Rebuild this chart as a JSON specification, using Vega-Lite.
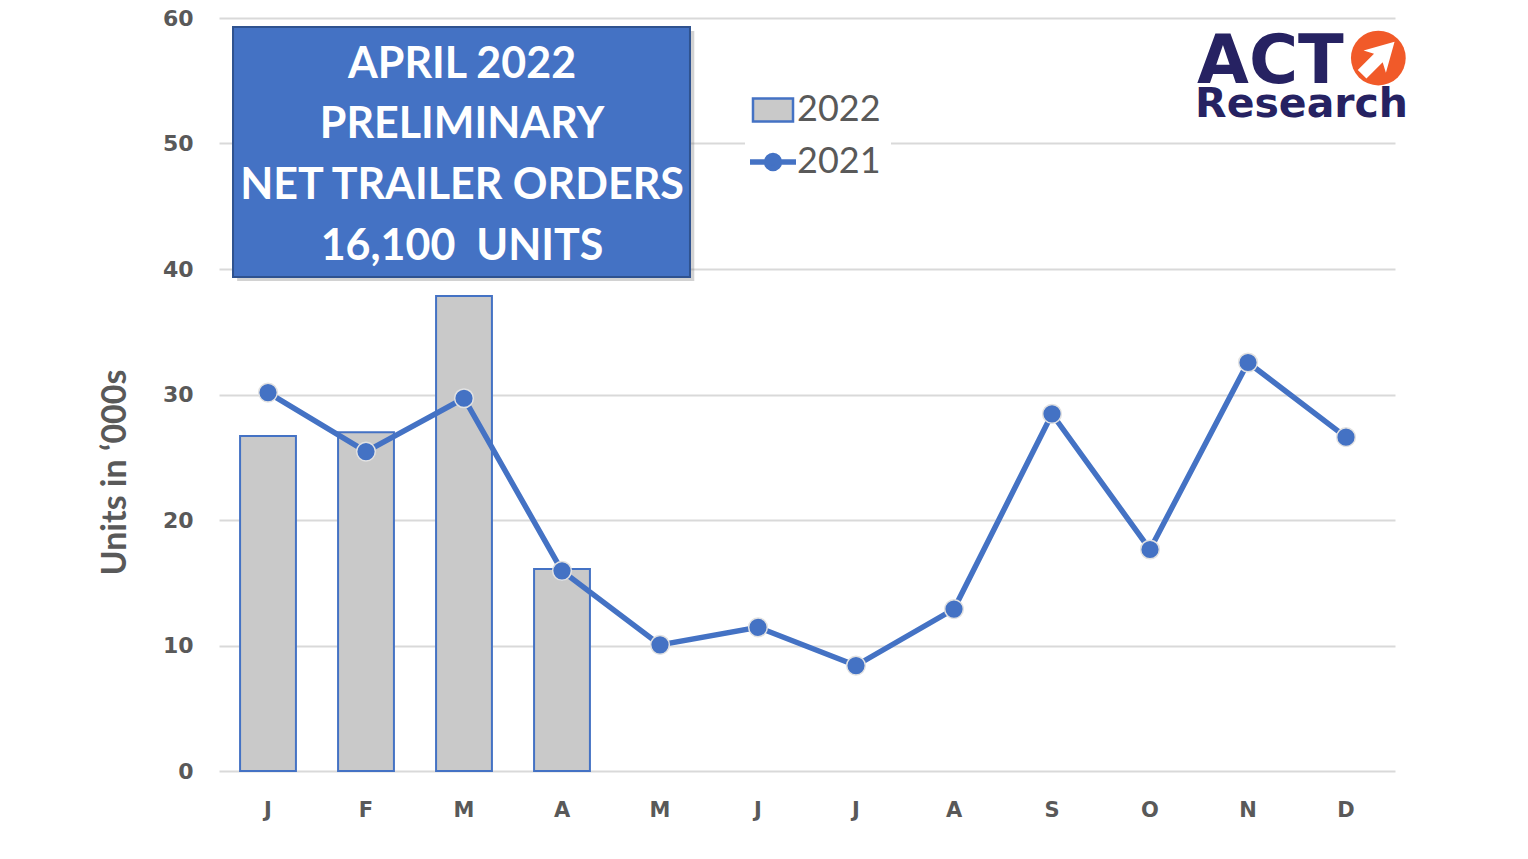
{
  "$schema": "https://vega.github.io/schema/vega-lite/v6.json",
  "width": 1176,
  "height": 753,
  "autosize": {"type": "none"},
  "padding": {"left": 219, "top": 18, "right": 133, "bottom": 88},
  "background": "white",
  "config": {"view": {"stroke": null}},
  "layer": [
    {
      "data": {"values": [
        {"month": "Jan", "series": "2022", "value": 26.7},
        {"month": "Feb", "series": "2022", "value": 27.0},
        {"month": "Mar", "series": "2022", "value": 37.85},
        {"month": "Apr", "series": "2022", "value": 16.1},
        {"month": "Jan", "series": "2021", "value": 30.15},
        {"month": "Feb", "series": "2021", "value": 25.45},
        {"month": "Mar", "series": "2021", "value": 29.7},
        {"month": "Apr", "series": "2021", "value": 15.95},
        {"month": "May", "series": "2021", "value": 10.05},
        {"month": "Jun", "series": "2021", "value": 11.45},
        {"month": "Jul", "series": "2021", "value": 8.4},
        {"month": "Aug", "series": "2021", "value": 12.9},
        {"month": "Sep", "series": "2021", "value": 28.45},
        {"month": "Oct", "series": "2021", "value": 17.65},
        {"month": "Nov", "series": "2021", "value": 32.55},
        {"month": "Dec", "series": "2021", "value": 26.6}
      ]},
      "encoding": {
        "x": {
          "field": "month", "type": "nominal",
          "scale": {"domain": ["Jan","Feb","Mar","Apr","May","Jun","Jul","Aug","Sep","Oct","Nov","Dec"], "paddingInner": 0.43, "paddingOuter": 0.215},
          "axis": {
            "title": null, "labelAngle": 0, "labelExpr": "substring(datum.label,0,1)",
            "labelFont": "DejaVu Sans", "labelFontWeight": "bold", "labelFontSize": 21,
            "labelColor": "#595959", "labelPadding": 28, "ticks": false, "domain": false, "grid": false
          }
        },
        "y": {
          "field": "value", "type": "quantitative",
          "scale": {"domain": [0, 60], "nice": false, "zero": true},
          "axis": {
            "title": "Units in ‘000s", "titleFont": "Lato", "titleFontSize": 34, "titleFontWeight": "bold",
            "titleColor": "#595959", "titlePadding": 30, "titleY": 454,
            "values": [0,10,20,30,40,50,60],
            "labelFont": "DejaVu Sans", "labelFontWeight": "bold", "labelFontSize": 22,
            "labelColor": "#595959", "labelPadding": 26, "ticks": false, "domain": false,
            "grid": true, "gridColor": "#D9D9D9", "gridWidth": 2
          }
        },
        "stroke": {
          "field": "series", "type": "nominal",
          "scale": {"domain": ["2022", "2021"], "range": ["#4472C4", "#4472C4"]},
          "legend": {
            "title": null, "orient": "none", "legendX": 526, "legendY": 64,
            "fillColor": "white", "padding": 10, "symbolSize": 2116,
            "labelFont": "Lato", "labelFontSize": 36, "labelColor": "#595959",
            "labelOffset": 6, "rowPadding": 16,
            "encode": {
              "symbols": {"update": {
                "shape": {"signal": "datum.value === '2022' ? 'M-0.87,-0.5H0.87V0.5H-0.87Z' : 'M-1,0H1M-0.28,0A0.28,0.28 0 1,0 0.28,0A0.28,0.28 0 1,0 -0.28,0Z'"},
                "fill": {"signal": "datum.value === '2022' ? '#C9C9C9' : '#4472C4'"},
                "strokeWidth": {"signal": "datum.value === '2022' ? 2.5 : 5.5"},
                "opacity": {"value": 1},
                "strokeOpacity": {"value": 1},
                "fillOpacity": {"value": 1}
              }}
            }
          }
        }
      },
      "layer": [
        {"transform": [{"filter": "datum.series === '2022'"}], "mark": {"type": "bar", "fill": "#C9C9C9", "strokeWidth": 2}},
        {"transform": [{"filter": "datum.series === '2021'"}], "mark": {"type": "line", "strokeWidth": 5.5}},
        {"transform": [{"filter": "datum.series === '2021'"}], "mark": {"type": "point", "filled": true, "size": 350, "fill": "#4472C4", "strokeWidth": 1.5, "opacity": 1},
         "encoding": {"stroke": {"value": "#E2E2E2"}}}
      ]
    },
    {
      "encoding": {
        "x": {"type": "quantitative", "scale": {"domain": [0, 12], "nice": false, "zero": false}, "axis": null},
        "y": {"type": "quantitative", "scale": {"domain": [0, 60], "nice": false, "zero": false}, "axis": null}
      },
      "layer": [
        {
          "data": {"values": [{"x1": 0.185, "x2": 4.85, "y1": 39.04, "y2": 58.96}]},
          "mark": {"type": "rect", "fill": "#7F7F7F", "opacity": 0.35},
          "encoding": {"x": {"field": "x1", "type": "quantitative"}, "x2": {"field": "x2"}, "y": {"field": "y1", "type": "quantitative"}, "y2": {"field": "y2"}}
        },
        {
          "data": {"values": [{"x1": 0.143, "x2": 4.806, "y1": 39.36, "y2": 59.28}]},
          "mark": {"type": "rect", "fill": "#4472C4", "stroke": "#2F528F", "strokeWidth": 2},
          "encoding": {"x": {"field": "x1", "type": "quantitative"}, "x2": {"field": "x2"}, "y": {"field": "y1", "type": "quantitative"}, "y2": {"field": "y2"}}
        },
        {
          "data": {"values": [
            {"t": "APRIL 2022", "x": 2.48, "y": 55.2},
            {"t": "PRELIMINARY", "x": 2.48, "y": 50.4},
            {"t": "NET TRAILER ORDERS", "x": 2.48, "y": 45.6},
            {"t": "16,100\u00a0\u00a0UNITS", "x": 2.48, "y": 40.7}
          ]},
          "mark": {"type": "text", "font": "Lato", "fontSize": 43, "fontWeight": "bold", "color": "white", "align": "center", "baseline": "alphabetic"},
          "encoding": {"x": {"field": "x", "type": "quantitative"}, "y": {"field": "y", "type": "quantitative"}, "text": {"field": "t"}}
        },
        {
          "data": {"values": [{"t": "ACT", "x": 9.98, "y": 54.82}]},
          "mark": {"type": "text", "font": "DejaVu Sans", "fontSize": 67, "fontWeight": "bold", "color": "#262262", "align": "left", "baseline": "alphabetic"},
          "encoding": {"x": {"field": "x", "type": "quantitative"}, "y": {"field": "y", "type": "quantitative"}, "text": {"field": "t"}}
        },
        {
          "data": {"values": [{"t": "Research", "x": 9.96, "y": 52.11}]},
          "mark": {"type": "text", "font": "DejaVu Sans", "fontSize": 41, "fontWeight": "bold", "color": "#262262", "align": "left", "baseline": "alphabetic"},
          "encoding": {"x": {"field": "x", "type": "quantitative"}, "y": {"field": "y", "type": "quantitative"}, "text": {"field": "t"}}
        },
        {
          "data": {"values": [{"x": 11.83, "y": 56.81}]},
          "mark": {"type": "point", "shape": "circle", "filled": true, "fill": "#F15A29", "size": 3000, "opacity": 1, "strokeWidth": 0},
          "encoding": {"x": {"field": "x", "type": "quantitative"}, "y": {"field": "y", "type": "quantitative"}}
        },
        {
          "data": {"values": [{"x": 11.83, "y": 56.81}]},
          "mark": {"type": "point", "shape": "M-0.24,0.9L0.24,0.9L0.24,0L0.62,0.2L0,-0.9L-0.62,0.2L-0.24,0Z", "filled": true, "fill": "white", "size": 2600, "opacity": 1, "strokeWidth": 0, "angle": 45},
          "encoding": {"x": {"field": "x", "type": "quantitative"}, "y": {"field": "y", "type": "quantitative"}}
        }
      ]
    }
  ],
  "resolve": {"scale": {"x": "independent", "y": "independent"}, "axis": {"x": "independent", "y": "independent"}}
}
